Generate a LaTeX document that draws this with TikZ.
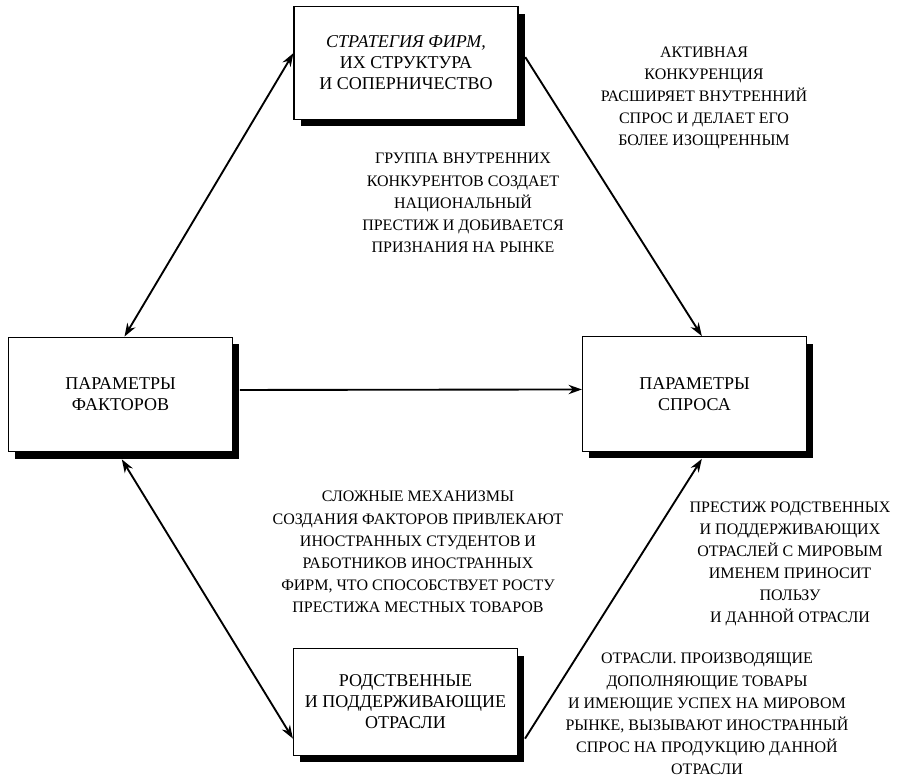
\documentclass[tikz,border=0pt]{standalone}
\usepackage{fontspec}
\setmainfont{Liberation Serif}
\usepackage{tikz}
\usetikzlibrary{positioning,arrows.meta,calc,shadows}

\begin{document}
\begin{tikzpicture}[x=0.75pt,y=-0.75pt,
  box/.style={draw, line width=0.9pt, fill=white, align=center,
    font=\fontsize{13.5}{15.8}\selectfont, minimum width=168pt, minimum height=86pt,
    general shadow={fill=black, shadow xshift=5.2pt, shadow yshift=-5.2pt}},
  note/.style={align=center, font=\fontsize{12}{16.6}\selectfont},
  link/.style={line width=1.4pt, -{Stealth[length=10pt,width=7pt]}},
  link2/.style={line width=1.4pt, {Stealth[length=10pt,width=7pt]}-{Stealth[length=10pt,width=7pt]}}]
\useasboundingbox (0,0) rectangle (911,779);
% the four boxes
\node[box, minimum height=84.5pt] (strategy) at (406,63) {{\itshape СТРАТЕГИЯ ФИРМ,}\\ИХ СТРУКТУРА\\И СОПЕРНИЧЕСТВО};
\node[box] (factors) at (120.5,394.5) {ПАРАМЕТРЫ\\ФАКТОРОВ};
\node[box] (demand) at (694.5,394) {ПАРАМЕТРЫ\\СПРОСА};
\node[box, minimum height=80pt] (related) at (405.5,702) {РОДСТВЕННЫЕ\\И ПОДДЕРЖИВАЮЩИЕ\\ОТРАСЛИ};
% comments beside the links
\node[note] (rivalry) at (704,98) {АКТИВНАЯ\\КОНКУРЕНЦИЯ\\РАСШИРЯЕТ ВНУТРЕННИЙ\\СПРОС И ДЕЛАЕТ ЕГО\\БОЛЕЕ ИЗОЩРЕННЫМ};
\node[note] (group) at (463,203) {ГРУППА ВНУТРЕННИХ\\КОНКУРЕНТОВ СОЗДАЕТ\\НАЦИОНАЛЬНЫЙ\\ПРЕСТИЖ И ДОБИВАЕТСЯ\\ПРИЗНАНИЯ НА РЫНКЕ};
\node[note] (mechanisms) at (418,552) {СЛОЖНЫЕ МЕХАНИЗМЫ\\СОЗДАНИЯ ФАКТОРОВ ПРИВЛЕКАЮТ\\ИНОСТРАННЫХ СТУДЕНТОВ И\\РАБОТНИКОВ ИНОСТРАННЫХ\\ФИРМ, ЧТО СПОСОБСТВУЕТ РОСТУ\\ПРЕСТИЖА МЕСТНЫХ ТОВАРОВ};
\node[note] (prestige) at (790,564) {ПРЕСТИЖ РОДСТВЕННЫХ\\И ПОДДЕРЖИВАЮЩИХ\\ОТРАСЛЕЙ С МИРОВЫМ\\ИМЕНЕМ ПРИНОСИТ\\ПОЛЬЗУ\\И ДАННОЙ ОТРАСЛИ};
\node[note] (complement) at (707,714) {ОТРАСЛИ. ПРОИЗВОДЯЩИЕ\\ДОПОЛНЯЮЩИЕ ТОВАРЫ\\И ИМЕЮЩИЕ УСПЕХ НА МИРОВОМ\\РЫНКЕ, ВЫЗЫВАЮТ ИНОСТРАННЫЙ\\СПРОС НА ПРОДУКЦИЮ ДАННОЙ\\ОТРАСЛИ};
% links
\draw[link2] (strategy.175) -- ([xshift=3pt]factors.north);
\draw[link] ([xshift=5pt]strategy.3) -- ([xshift=5.5pt]demand.north);
\draw[link] ([xshift=5pt,yshift=3.4pt]factors.east) -- ([yshift=3.4pt]demand.west);
\draw[link2] ([xshift=1pt,yshift=-5.2pt]factors.south) -- (related.198);
\draw[link] ([xshift=5.2pt]related.-18) -- ([xshift=5.5pt,yshift=-5.2pt]demand.south);
\end{tikzpicture}
\end{document}
